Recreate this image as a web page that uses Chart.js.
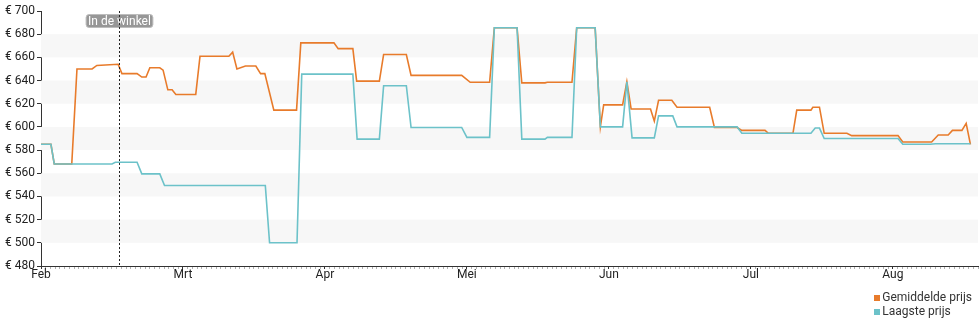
<!DOCTYPE html>
<html>
<head>
<meta charset="utf-8">
<script src="https://cdn.jsdelivr.net/npm/chart.js@4"></script>
<style>
    body { margin: 0; background: #fff; font-family: Roboto, sans-serif; }
    #app { position: relative; width: 980px; height: 325px; }
    .legend { position: absolute; right: 8px; top: 290px; font-size: 12px; color: #333; line-height: 14px; }
    .legend div { white-space: nowrap; }
    .legend span { display: inline-block; width: 6px; height: 6px; margin-right: 2px; vertical-align: 0px; }
</style>
</head>
<body>
<div id="app">
    <canvas id="priceChart" width="980" height="325"></canvas>
    <div class="legend" id="legend"></div>
</div>
<script>
// maanden op de x-as, elke maand 30 dagen breed
var monthLabels = ['Feb', 'Mrt', 'Apr', 'Mei', 'Jun', 'Jul', 'Aug']
var seriesNames = ['Gemiddelde prijs', 'Laagste prijs']
var seriesColors = ['#e87b2b', '#6cc2c9']

// gemiddelde prijs: dag sinds 1 feb en prijs
var avgDays = [0, 2.1, 2.8, 6.5, 7.6, 10.8, 11.8, 16.3, 17.1, 20.3, 21.3, 22.2, 23.0, 25.1, 25.8, 26.8, 27.7, 28.5,
    32.7, 33.6, 39.7, 40.5, 41.4, 43.2, 45.4, 46.4, 47.3, 49.2, 54.0, 54.9, 61.9, 62.8, 65.9, 66.7, 71.5, 72.4,
    77.2, 78.2, 88.9, 90.7, 94.8, 95.8, 100.6, 101.6, 106.5, 107.0, 112.2, 113.2, 117.1, 118.2, 118.9, 122.9,
    123.8, 124.7, 128.8, 129.6, 130.5, 133.3, 134.4, 141.3, 142.3, 147.1, 148.1, 153.0, 153.7, 158.9, 159.7,
    162.7, 163.1, 164.5, 165.5, 170.3, 171.3, 181.1, 182.1, 188.2, 189.6, 191.7, 192.6, 194.6, 195.5, 196.4]
var avgPrices = [585, 585, 568, 568, 650, 650, 653, 654, 646, 646, 643, 643, 651, 651, 649, 632, 632, 628,
    628, 661, 661, 664.5, 650, 652.5, 652.5, 646, 646, 614.5, 614.5, 672.5, 672.5, 667.5, 667.5, 639.5, 639.5, 662.5,
    662.5, 644.5, 644.5, 638.5, 638.5, 685.5, 685.5, 638, 638, 638.5, 638.5, 685.5, 685.5, 600, 619, 619,
    639, 615.5, 615.5, 605, 623, 623, 617, 617, 599.5, 599.5, 597, 597, 594.5, 594.5, 614.5,
    614.5, 617, 617, 594.5, 594.5, 592.5, 592.5, 587, 587, 593, 593, 597, 597, 603, 585]

// laagste prijs
var lowDays = [0, 2.1, 2.8, 15.0, 15.7, 20.3, 21.3, 25.1, 26.1, 47.4, 48.3, 54.1, 55.1, 65.9, 66.8, 71.5, 72.4,
    77.2, 78.2, 88.9, 90.0, 94.8, 95.8, 100.6, 101.6, 106.5, 107.0, 112.2, 113.2, 117.1, 118.2, 122.9, 123.8,
    124.9, 129.6, 130.5, 133.5, 134.4, 147.1, 148.1, 162.7, 163.6, 164.5, 165.5, 181.1, 182.1, 187.9, 189.0, 196.4]
var lowPrices = [585, 585, 568, 568, 569.5, 569.5, 559.5, 559.5, 549.5, 549.5, 500, 500, 645.5, 645.5, 589.5, 589.5, 635.5,
    635.5, 599.5, 599.5, 591, 591, 685.5, 685.5, 589.5, 589.5, 591, 591, 685.5, 685.5, 600, 600, 639,
    590.5, 590.5, 609.5, 609.5, 600, 600, 594.5, 594.5, 599, 599, 590, 590, 585, 585, 585.5, 585.5]

// dag waarop het product in de winkel kwam
var storeDay = 16.4
var storeLabel = 'In de winkel'

var toPoints = (days, prices) => days.map((d, i) => ({ x: d, y: prices[i] }))

// lichtgrijze banden tussen elke tweede tick
var bandPlugin = {
    id: 'bands',
    beforeDatasetsDraw: (chart) => {
        var ctx = chart.ctx, area = chart.chartArea, y = chart.scales.y
        ctx.save()
        ctx.fillStyle = '#f7f7f7'
        y.ticks.forEach((t, i) => {
            if (i % 2 === 1 && i < y.ticks.length - 1) {
                var top = y.getPixelForValue(y.ticks[i + 1].value)
                var bottom = y.getPixelForValue(t.value)
                ctx.fillRect(area.left, top, area.right - area.left, bottom - top)
            }
        })
        ctx.restore()
    }
}

// stippellijn met label voor de winkeldatum
var markerPlugin = {
    id: 'marker',
    afterDatasetsDraw: (chart) => {
        var ctx = chart.ctx, area = chart.chartArea
        var x = Math.round(chart.scales.x.getPixelForValue(storeDay)) + 0.5
        ctx.save()
        ctx.font = '12px Roboto'
        var w = ctx.measureText(storeLabel).width + 4
        ctx.fillStyle = 'rgba(140,140,140,0.9)'
        ctx.strokeStyle = '#bdbdbd'
        ctx.lineWidth = 1
        ctx.beginPath()
        ctx.roundRect(x - w / 2, area.top + 3.5, w, 13, 3)
        ctx.fill()
        ctx.stroke()
        ctx.fillStyle = '#fff'
        ctx.textAlign = 'center'
        ctx.textBaseline = 'middle'
        ctx.fillText(storeLabel, x, area.top + 10.5)
        ctx.strokeStyle = '#222'
        ctx.setLineDash([2, 2])
        ctx.beginPath()
        ctx.moveTo(x, area.top)
        ctx.lineTo(x, area.bottom)
        ctx.stroke()
        ctx.restore()
    }
}

Chart.defaults.font.family = 'Roboto'
Chart.defaults.color = '#222'

var priceChart = new Chart(document.getElementById('priceChart'), {
    type: 'line',
    data: {
        datasets: [{
            label: seriesNames[0],
            data: toPoints(avgDays, avgPrices),
            borderColor: seriesColors[0],
            backgroundColor: seriesColors[0],
            order: 1
        }, {
            label: seriesNames[1],
            data: toPoints(lowDays, lowPrices),
            borderColor: seriesColors[1],
            backgroundColor: seriesColors[1],
            order: 0
        }]
    },
    options: {
        responsive: false,
        animation: false,
        layout: { padding: { top: 11, right: 2 } },
        elements: {
            line: { borderWidth: 1.6, tension: 0, fill: false },
            point: { radius: 0 }
        },
        plugins: {
            legend: { display: false },
            tooltip: { enabled: false }
        },
        scales: {
            x: {
                type: 'linear',
                min: 0,
                max: 198,
                afterFit: (s) => { s.height = 59 },
                border: { color: '#333' },
                grid: {
                    drawOnChartArea: false,
                    tickLength: 3,
                    tickColor: (c) => c.tick && c.tick.value % 30 === 0 ? '#333' : '#b0b0b0'
                },
                ticks: {
                    stepSize: 1,
                    autoSkip: false,
                    maxRotation: 0,
                    padding: -1,
                    font: { size: 12 },
                    callback: (v) => v % 30 === 0 ? monthLabels[v / 30] : ''
                }
            },
            y: {
                min: 480,
                max: 700,
                afterFit: (s) => { s.width = 41 },
                border: { color: '#333' },
                grid: { drawOnChartArea: false, tickLength: 4, tickColor: '#333' },
                ticks: {
                    stepSize: 20,
                    padding: 2,
                    font: { size: 12 },
                    callback: (v) => '€ ' + v
                }
            }
        }
    },
    plugins: [bandPlugin, markerPlugin]
})

// legenda rechtsonder
document.getElementById('legend').innerHTML = priceChart.data.datasets
    .map((d) => `<div><span style="background:${d.borderColor}"></span>${d.label}</div>`).join('')
</script>
</body>
</html>
